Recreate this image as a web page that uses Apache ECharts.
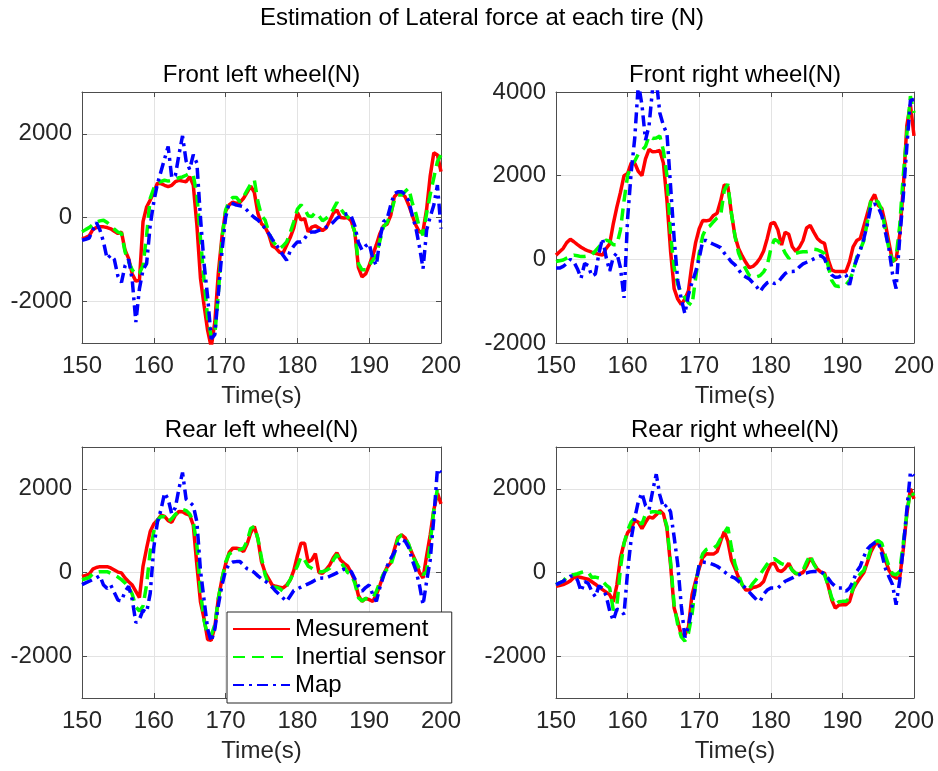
<!DOCTYPE html>
<html>
<head>
<meta charset="utf-8">
<title>Estimation of Lateral force at each tire (N)</title>
<script src="https://cdn.jsdelivr.net/npm/echarts@6/dist/echarts.min.js"></script>
<style>
  html, body { margin: 0; padding: 0; background: #fff; }
  #chart { width: 938px; height: 771px; }
</style>
</head>
<body>
<div id="chart"></div>
<script>
// time axis (s), one sample every 0.5 s
var time = [150,150.5,151,151.5,152,152.5,153,153.5,154,154.5,
  155,155.5,156,156.5,157,157.5,158,158.5,159,159.5,
  160,160.5,161,161.5,162,162.5,163,163.5,164,164.5,
  165,165.5,166,166.5,167,167.5,168,168.5,169,169.5,
  170,170.5,171,171.5,172,172.5,173,173.5,174,174.5,
  175,175.5,176,176.5,177,177.5,178,178.5,179,179.5,
  180,180.5,181,181.5,182,182.5,183,183.5,184,184.5,
  185,185.5,186,186.5,187,187.5,188,188.5,189,189.5,
  190,190.5,191,191.5,192,192.5,193,193.5,194,194.5,
  195,195.5,196,196.5,197,197.5,198,198.5,199,199.5,200];

// Front left wheel (N)
var flMeas = [-504,-480,-440,-290,-240,-224,-224,-240,-270,-330,
  -380,-350,-784,-984,-1350,-1520,-1500,-100,250,416,
  600,820,810,770,740,770,856,890,870,856,
  976,776,-184,-1450,-2100,-2700,-3100,-2500,-1300,-450,
  150,300,370,336,360,460,600,750,600,100,
  -150,-230,-400,-680,-730,-830,-850,-664,-480,-250,
  120,-60,-24,-344,-230,-200,-250,-310,-250,-80,
  100,180,0,-10,0,-80,-350,-1200,-1420,-1350,
  -1144,-900,-650,-380,-200,-160,50,496,590,570,
  500,300,50,-184,-350,-320,200,1000,1550,1496,1096];
var flInert = [-344,-290,-240,-170,-110,-80,-64,-120,-200,-280,
  -350,-380,-824,-1064,-1250,-1370,-1330,-1150,-424,456,
  700,820,860,890,870,880,920,950,970,1010,
  1056,1016,536,-500,-1500,-2400,-2850,-2800,-1800,-500,
  180,380,480,480,376,496,650,800,900,376,
  50,-60,-350,-560,-660,-744,-680,-584,-360,-100,
  200,300,216,40,20,120,40,-80,-20,56,
  200,360,210,100,20,-100,-350,-1100,-1250,-1250,
  -1144,-1020,-904,-550,-220,-120,100,400,536,536,
  620,700,350,100,-250,-424,100,550,950,1336,1496];
var flMap = [-544,-520,-490,-300,-120,-300,-584,-984,-900,-1000,
  -1400,-1550,-1150,-1000,-1500,-2500,-1700,-1250,-1100,-184,
  376,800,1100,1400,1700,950,1000,1500,1950,1350,
  1150,1500,1300,0,-1100,-1900,-2900,-2800,-1800,-800,
  0,350,330,296,280,256,170,80,0,-60,
  -150,-260,-380,-520,-640,-770,-904,-1024,-800,-680,
  -584,-584,-500,-380,-344,-344,-310,-270,-230,-184,
  -110,-20,30,70,90,30,-200,-600,-780,-680,
  -624,-984,-1144,-500,-100,-30,300,570,616,616,
  550,400,50,-250,-700,-1224,-300,20,300,776,-264];

// Front right wheel (N)
var frMeas = [100,180,260,400,480,420,350,290,240,200,
  170,145,120,100,260,370,850,1250,1600,2000,
  2050,2300,2300,2100,2000,2400,2630,2570,2580,2600,
  2300,1400,200,-700,-950,-1080,-950,-750,-100,400,
  730,930,920,940,1050,1100,1400,1780,1750,1100,
  550,260,80,-70,-200,-170,-90,25,200,500,
  850,880,700,340,650,600,300,190,290,450,
  750,810,650,500,420,380,0,-250,-290,-290,
  -290,-290,-55,300,450,500,800,1100,1400,1550,
  1290,1220,850,400,-50,0,580,1700,3200,3700,2950];
var frInert = [-55,-35,-15,30,70,100,85,65,70,85,
  110,200,300,400,460,430,350,350,700,1400,
  2000,2240,2350,2520,2600,2700,2950,2890,2900,2950,
  2600,2000,600,-200,-600,-800,-920,-1040,-1100,-450,
  150,570,750,800,900,990,1050,1650,1800,1100,
  550,150,-55,-230,-390,-430,-420,-390,-300,-150,
  250,480,430,330,150,25,90,145,170,180,
  180,200,240,230,190,140,-150,-500,-630,-650,
  -630,-610,-500,-300,50,230,450,900,1450,1420,
  1370,1180,700,250,-55,50,800,2000,3000,3900,3500];
var frMap = [-210,-210,-170,-100,0,-60,-230,-450,-100,-150,
  -400,-350,150,500,50,-280,50,150,-200,-920,
  970,2080,2900,4200,3700,2850,3200,4100,4300,3500,
  3200,3000,1760,500,-500,-950,-1300,-850,-550,-300,
  25,450,450,400,360,320,280,150,50,-60,
  -130,-250,-370,-420,-470,-560,-650,-770,-650,-560,
  -530,-580,-550,-440,-340,-290,-290,-280,-180,-110,
  -70,-30,10,50,90,20,-200,-370,-430,-420,
  -370,-370,-610,-250,0,220,500,850,1290,1320,
  1250,1050,650,250,-350,-700,500,1500,2700,3800,3820];

// Rear left wheel (N)
var rlMeas = [-95,-70,-40,80,120,140,140,140,110,60,
  10,-10,-130,-220,-300,-450,-600,150,580,980,
  1160,1250,1370,1340,1240,1200,1370,1460,1450,1400,
  1370,1130,180,-700,-1100,-1600,-1620,-1300,-610,-150,
  200,480,580,580,560,500,680,950,1100,800,
  260,0,-150,-300,-330,-350,-370,-300,-180,50,
  400,700,700,250,300,450,0,-20,70,180,
  350,470,300,220,150,0,-200,-550,-690,-620,
  -650,-690,-530,-300,-50,130,230,550,840,900,
  830,650,450,260,0,-130,400,900,1500,1900,1640];
var rlInert = [-174,-150,-120,-30,0,20,20,20,-20,-60,
  -110,-170,-250,-350,-520,-820,-920,-800,-290,500,
  980,1250,1340,1330,1210,1290,1390,1460,1510,1480,
  1400,1210,660,-450,-1150,-1500,-1500,-1250,-610,-150,
  250,440,500,520,550,580,750,1050,1100,810,
  350,-50,-280,-360,-350,-380,-450,-330,-170,0,
  150,380,300,150,100,40,20,20,50,100,
  300,430,260,130,0,-50,-250,-600,-680,-620,
  -630,-600,-450,-220,-30,80,170,450,810,900,
  840,680,400,250,100,-55,20,700,1500,2000,2000];
var rlMap = [-290,-250,-210,-170,-130,-80,-300,-380,-300,-480,
  -660,-680,-450,-330,-650,-1200,-1120,-900,-950,-500,
  600,1200,1500,1900,1750,1400,1550,2000,2390,1750,
  1680,1600,1210,50,-650,-1350,-1650,-1350,-770,-300,
  50,200,250,260,260,180,90,50,0,-80,
  -150,-200,-270,-350,-450,-530,-610,-690,-560,-430,
  -390,-350,-310,-270,-230,-180,-140,-130,-130,-90,
  -50,-10,40,80,70,20,-150,-320,-450,-360,
  -300,-530,-690,-350,-80,150,330,480,660,780,
  750,600,300,50,-300,-770,-210,300,1300,2470,2390];

// Rear right wheel (N)
var rrMeas = [-330,-310,-290,-250,-200,-120,-100,-120,-140,-160,
  -220,-280,-350,-410,-470,-530,-700,-300,350,700,
  950,1050,1250,1200,1050,1200,1330,1300,1380,1480,
  1400,1050,180,-850,-1150,-1500,-1500,-1300,-530,-200,
  100,360,450,440,440,500,750,980,750,300,
  100,-120,-290,-420,-420,-360,-340,-300,-215,20,
  200,220,50,25,100,220,60,-30,-30,0,
  150,340,220,80,10,-15,-300,-650,-850,-780,
  -770,-770,-690,-400,-250,-120,0,250,500,660,
  720,550,300,50,-80,-130,-130,550,1400,2000,1760];
var rrInert = [-290,-250,-210,-100,-55,-55,-30,0,25,10,
  -120,-110,-130,-210,-300,-370,-900,-800,100,700,
  1000,1210,1300,1250,1150,1400,1440,1450,1450,1430,
  1380,1100,260,-770,-1250,-1540,-1640,-1450,-1000,-290,
  200,450,550,580,580,650,810,950,1080,600,
  200,-50,-290,-420,-380,-260,-160,-50,80,200,
  300,330,270,210,180,180,50,-20,-30,50,
  250,420,200,60,20,-55,-300,-600,-770,-700,
  -690,-690,-610,-380,-150,-30,50,300,580,730,
  760,700,400,150,-30,-55,25,700,1400,1950,1840];
var rrMap = [-290,-250,-210,-150,-90,-80,-180,-450,-215,-260,
  -450,-580,-320,-380,-550,-920,-1150,-880,-900,-1000,
  25,800,1300,1700,1900,1600,1500,1950,2350,1850,
  1550,1620,1450,850,200,-800,-1550,-1300,-800,-300,
  180,250,240,220,190,150,90,20,-50,-100,
  -135,-210,-290,-380,-470,-560,-650,-690,-520,-420,
  -370,-370,-370,-290,-210,-170,-130,-80,-50,-25,
  -10,15,25,25,25,-50,-135,-250,-330,-370,
  -370,-450,-370,-210,25,150,380,560,650,710,
  730,450,100,-100,-290,-770,-200,600,1500,2400,2310];

var seriesNames = ['Mesurement', 'Inertial sensor', 'Map'];
var panelTitles = ['Front left wheel(N)', 'Front right wheel(N)', 'Rear left wheel(N)', 'Rear right wheel(N)'];
var panelData = [
  [flMeas, flInert, flMap],
  [frMeas, frInert, frMap],
  [rlMeas, rlInert, rlMap],
  [rrMeas, rrInert, rrMap]
];
var yRanges = [[-3000, 3000], [-2000, 4000], [-3000, 3000], [-3000, 3000]];
var yTickValues = [[-2000, 0, 2000], [-2000, 0, 2000, 4000], [-2000, 0, 2000], [-2000, 0, 2000]];

var FONT = '"Liberation Sans", Arial, Helvetica, sans-serif';
var TXT = '#262626';
var AXC = '#4d4d4d';
var GRIDC = '#e3e3e3';

var boxes = [
  {left: 82, top: 92, width: 359, height: 251},
  {left: 556, top: 92, width: 358, height: 251},
  {left: 82, top: 447, width: 359, height: 251},
  {left: 556, top: 447, width: 358, height: 251}
];
var lineLooks = [
  {color: '#ff0000', type: 'solid', width: 3.5},
  {color: '#00ff00', type: [12, 7], width: 3.5},
  {color: '#0000ff', type: [11, 5, 3, 5], width: 3.5}
];

function pairs(vals) {
  return time.map(function (t, i) { return [t, vals[i]]; });
}
function plain(v) { return String(v); }

var grid = [], xAxis = [], yAxis = [], series = [], graphic = [];

graphic.push({
  type: 'text', x: 482, y: 18,
  style: {text: 'Estimation of Lateral force at each tire (N)', fill: '#000',
    font: '24px ' + FONT, align: 'center', verticalAlign: 'middle'}
});

boxes.forEach(function (b, i) {
  grid.push({left: b.left, top: b.top, width: b.width, height: b.height, containLabel: false});
  var axisLine = {show: true, onZero: false, lineStyle: {color: AXC, width: 1}};
  var tick = {show: true, inside: true, length: 5, lineStyle: {color: AXC}};
  // bottom x axis
  xAxis.push({
    type: 'value', gridIndex: i, min: 150, max: 200, interval: 10,
    name: 'Time(s)', nameLocation: 'middle', nameGap: 41,
    nameTextStyle: {fontSize: 24, color: TXT, fontFamily: FONT},
    axisLine: axisLine, axisTick: tick,
    axisLabel: {fontSize: 24, color: TXT, fontFamily: FONT, margin: 11, formatter: plain},
    splitLine: {show: true, lineStyle: {color: GRIDC, width: 1}}
  });
  // top x axis (box)
  xAxis.push({
    type: 'value', gridIndex: i, position: 'top', min: 150, max: 200, interval: 10,
    axisLine: axisLine, axisTick: tick, axisLabel: {show: false}, splitLine: {show: false}
  });
  var yr = yRanges[i];
  yAxis.push({
    type: 'value', gridIndex: i, min: yr[0], max: yr[1],
    axisLine: axisLine,
    axisTick: {show: true, inside: true, length: 5, lineStyle: {color: AXC}, customValues: yTickValues[i]},
    axisLabel: {fontSize: 24, color: TXT, fontFamily: FONT, margin: 10,
      customValues: yTickValues[i], formatter: plain},
    splitLine: {show: true, lineStyle: {color: GRIDC, width: 1}}
  });
  yAxis.push({
    type: 'value', gridIndex: i, position: 'right', min: yr[0], max: yr[1],
    axisLine: axisLine,
    axisTick: {show: true, inside: true, length: 5, lineStyle: {color: AXC}, customValues: yTickValues[i]},
    axisLabel: {show: false}, splitLine: {show: false}
  });
  panelData[i].forEach(function (vals, k) {
    series.push({
      name: seriesNames[k], type: 'line',
      xAxisIndex: i * 2, yAxisIndex: i * 2,
      data: pairs(vals),
      showSymbol: false, symbol: 'none', clip: true,
      lineStyle: lineLooks[k], itemStyle: {color: lineLooks[k].color},
      z: 2 + k
    });
  });
  graphic.push({
    type: 'text', x: b.left + b.width / 2, y: b.top - 17,
    style: {text: panelTitles[i], fill: '#000', font: '24px ' + FONT,
      align: 'center', verticalAlign: 'middle'}
  });
});

var chart = echarts.init(document.getElementById('chart'), null, {renderer: 'canvas'});
chart.setOption({
  backgroundColor: '#ffffff',
  animation: false,
  grid: grid,
  xAxis: xAxis,
  yAxis: yAxis,
  series: series,
  graphic: graphic,
  legend: {
    data: seriesNames,
    orient: 'vertical', left: 227, top: 612,
    itemWidth: 57, itemHeight: 14, itemGap: 4,
    padding: [5, 6, 6, 5],
    borderColor: '#262626', borderWidth: 1, backgroundColor: '#ffffff',
    itemStyle: {opacity: 0},
    textStyle: {fontSize: 24, color: '#000', fontFamily: FONT},
    selectedMode: false, z: 10
  }
});
</script>
</body>
</html>
